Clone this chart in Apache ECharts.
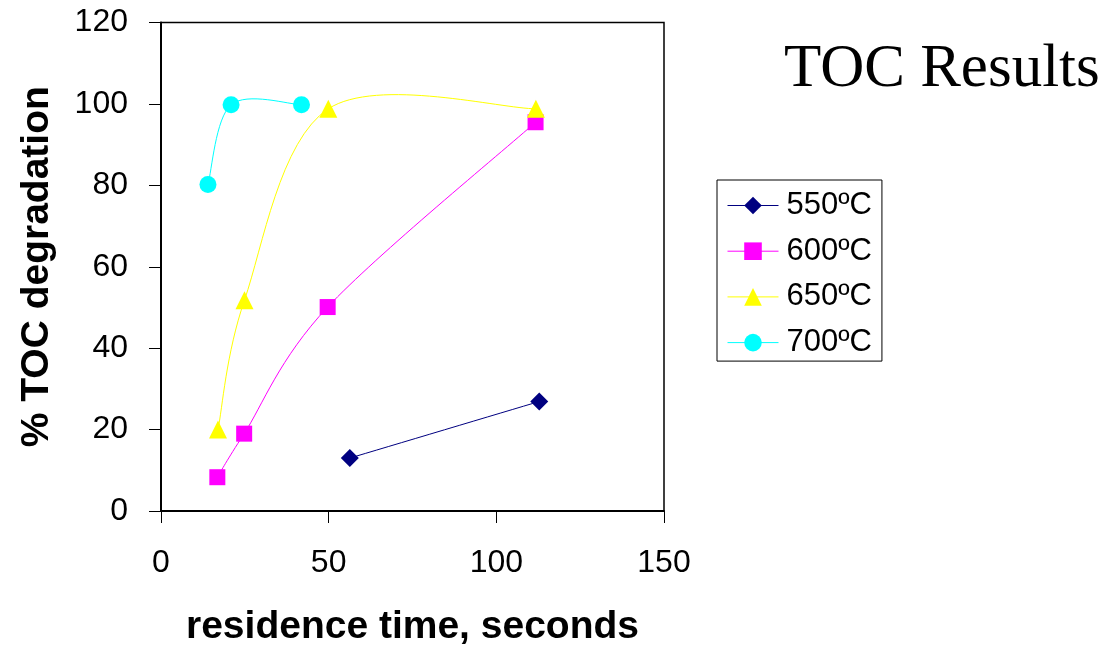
<!DOCTYPE html>
<html>
<head>
<meta charset="utf-8">
<script src="https://cdn.jsdelivr.net/npm/echarts@6/dist/echarts.min.js"></script>
<style>
html,body{margin:0;padding:0;background:#fff;}
#chart{width:1105px;height:652px;}
</style>
</head>
<body>
<div id="chart"></div>
<script>
// ---- data ----
const seriesNames = ['550ºC', '600ºC', '650ºC', '700ºC'];
const t550 = [56.3, 112.8];
const v550 = [13.0, 26.9];
const t600 = [16.8, 24.8, 49.7, 111.7];
const v600 = [8.3, 19.0, 50.1, 95.5];
const t650 = [17.0, 24.9, 49.9, 111.8];
const v650 = [20.0, 51.8, 98.8, 98.8];
const t700 = [14.0, 20.9, 41.9];
const v700 = [80.2, 99.8, 99.8];
const xTicks = [0, 50, 100, 150];
const yTicks = [0, 20, 40, 60, 80, 100, 120];

const pairs = (xs, ys) => xs.map((x, i) => [x, ys[i]]);
const colors = ['#000080', '#FF00FF', '#FFFF00', '#00FFFF'];
const symbols = ['diamond', 'rect', 'triangle', 'circle'];
const sizes = [18, 16, 18, 17];
const allData = [pairs(t550, v550), pairs(t600, v600), pairs(t650, v650), pairs(t700, v700)];

const chart = echarts.init(document.getElementById('chart'), null, {renderer: 'canvas'});
const sansFont = 'Liberation Sans, Arial, sans-serif';

// Excel-like smoothed line (Catmull-Rom Bezier) drawn through the axis scales
function smoothCurve(data, color) {
  return {
    type: 'custom',
    name: 'curve-' + color,
    data: [0],
    z: 1,
    silent: true,
    clip: false,
    renderItem: function (params, api) {
      const pts = data.map(d => api.coord(d));
      const children = [];
      for (let i = 0; i < pts.length - 1; i++) {
        const p0 = pts[i > 0 ? i - 1 : i];
        const p1 = pts[i];
        const p2 = pts[i + 1];
        const p3 = pts[i + 2 < pts.length ? i + 2 : i + 1];
        children.push({
          type: 'bezierCurve',
          shape: {
            x1: p1[0], y1: p1[1], x2: p2[0], y2: p2[1],
            cpx1: p1[0] + (p2[0] - p0[0]) / 6, cpy1: p1[1] + (p2[1] - p0[1]) / 6,
            cpx2: p2[0] - (p3[0] - p1[0]) / 6, cpy2: p2[1] - (p3[1] - p1[1]) / 6
          },
          style: {stroke: color, lineWidth: 1, fill: null}
        });
      }
      return {type: 'group', children: children};
    }
  };
}

const markerSeries = seriesNames.map((name, i) => ({
  name: name,
  type: 'line',
  data: allData[i],
  symbol: symbols[i],
  symbolSize: sizes[i],
  z: 3,
  lineStyle: {color: colors[i], width: 1, opacity: 0},
  itemStyle: {color: colors[i]},
  emphasis: {disabled: true},
  animation: false
}));

const curveSeries = allData.map((d, i) => smoothCurve(d, colors[i]));

chart.setOption({
  animation: false,
  backgroundColor: '#fff',
  title: {
    text: 'TOC Results',
    left: 784,
    top: 39,
    padding: 0,
    textStyle: {fontFamily: 'Liberation Serif, Times New Roman, serif', fontSize: 61, fontWeight: 'normal', color: '#000', lineHeight: 61}
  },
  legend: {
    orient: 'vertical',
    left: 717,
    top: 180,
    padding: [10, 10, 3, 10],
    borderColor: '#000',
    borderWidth: 1,
    itemWidth: 51,
    itemHeight: 22,
    itemGap: 14.7,
    data: seriesNames,
    lineStyle: {opacity: 1, width: 1},
    textStyle: {fontFamily: sansFont, fontSize: 31, color: '#000', lineHeight: 30, padding: [0, 0, 0, 3]}
  },
  grid: {
    left: 161, right: 441, top: 22.5, bottom: 140,
    show: true, borderColor: '#000', borderWidth: 1.5, containLabel: false
  },
  xAxis: {
    type: 'value',
    min: xTicks[0], max: xTicks[xTicks.length - 1], interval: 50,
    name: 'residence time, seconds',
    nameLocation: 'middle',
    nameGap: 97,
    nameTextStyle: {fontFamily: sansFont, fontSize: 39, fontWeight: 'bold', color: '#000'},
    axisLine: {show: true, onZero: false, lineStyle: {color: '#000', width: 2}},
    axisTick: {show: true, inside: false, length: 12, lineStyle: {color: '#000', width: 1}},
    axisLabel: {fontFamily: sansFont, fontSize: 32, color: '#000', margin: 36},
    splitLine: {show: false}
  },
  yAxis: {
    type: 'value',
    min: yTicks[0], max: yTicks[yTicks.length - 1], interval: 20,
    name: '% TOC degradation',
    nameLocation: 'middle',
    nameGap: 104,
    nameTextStyle: {fontFamily: sansFont, fontSize: 39, fontWeight: 'bold', color: '#000'},
    axisLine: {show: true, onZero: false, lineStyle: {color: '#000', width: 2}},
    axisTick: {show: true, inside: false, length: 12, lineStyle: {color: '#000', width: 1}},
    axisLabel: {fontFamily: sansFont, fontSize: 32, color: '#000', margin: 33},
    splitLine: {show: false}
  },
  series: curveSeries.concat(markerSeries)
});
</script>
</body>
</html>
